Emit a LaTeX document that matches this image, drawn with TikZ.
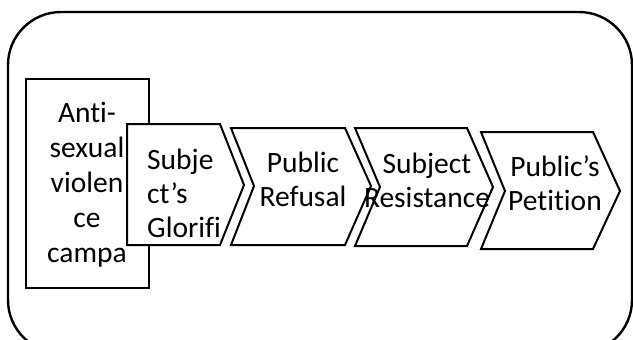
\documentclass[tikz,border=0pt]{standalone}
\usepackage{fontspec}
\setmainfont{Carlito}[Ligatures={NoCommon,NoContextual}]
\usepackage{tikz}
\tikzset{
  outerframe/.style={draw, line width=2.4pt, rounded corners=53pt},
  campbox/.style={draw, line width=2pt, fill=white},
  chev/.style={draw, line width=2pt, fill=white, line join=miter},
  steptext/.style={align=center, inner sep=0pt, font=\fontsize{29.5}{34}\selectfont}
}
\begin{document}
\begin{tikzpicture}[x=1pt,y=-1pt]
\useasboundingbox (0,0) rectangle (633,340);
\clip (0,0) rectangle (633,340);
\draw[outerframe] (8,12) rectangle (632,353);
% campaign box and the four steps
\draw[campbox] (26,79) rectangle (149,288);
\draw[chev] (127,124) -- (220,124) -- (244,185) -- (220,245) -- (127,245) -- cycle;
\draw[chev] (231,128) -- (345,128) -- (371,186) -- (345,245) -- (231,245) -- (254,186) -- cycle;
\draw[chev] (355,128) -- (467,128) -- (493,187) -- (467,246) -- (355,246) -- (380,187) -- cycle;
\draw[chev] (481,132) -- (593,132) -- (620,191) -- (593,249) -- (481,249) -- (505,191) -- cycle;
% labels
\node[steptext, font=\fontsize{29.5}{35}\selectfont] (campaign) at (87,185)
  {Anti-\\sexual\\violen\\ce\\campa};
\node[steptext, align=left, anchor=west] (glorify) at (147,193)
  {Subje\\ct’s\\Glorifi};
\node[steptext] (refusal) at (303,179) {Public\\Refusal};
\node[steptext] (resist) at (427,180) {Subject\\Resistance};
\node[steptext] (petition) at (555,183) {Public’s\\Petition};
\end{tikzpicture}
\end{document}
